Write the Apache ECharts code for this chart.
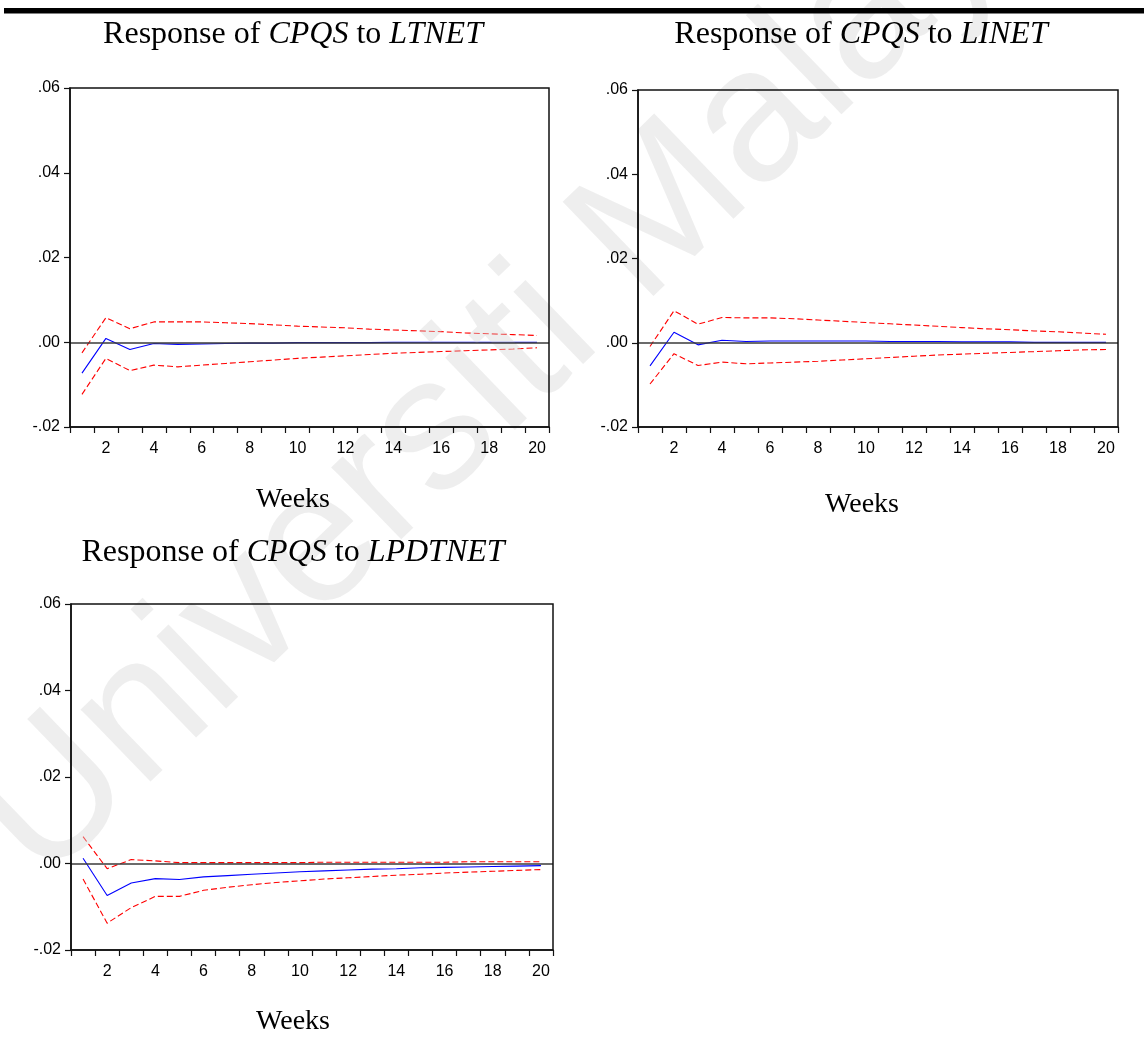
<!DOCTYPE html>
<html>
<head>
<meta charset="utf-8">
<script src="https://cdn.jsdelivr.net/npm/echarts@6/dist/echarts.min.js"></script>
<style>
  html, body { margin: 0; padding: 0; background: #fff; }
  #chart { width: 1144px; height: 1039px; }
</style>
</head>
<body>
<div id="chart"></div>
<script>
// Weeks after the shock
const weeks = ['1','2','3','4','5','6','7','8','9','10','11','12','13','14','15','16','17','18','19','20'];

// y-axis ticks
const yMin = -0.02, yMax = 0.06, yStep = 0.02;

// Response of CPQS to LTNET
const ltnetIrf   = [-0.0073, 0.0009, -0.0017, -0.0003, -0.0005, -0.0004, -0.0003, -0.0002, -0.0002, -0.0001, -0.0001, -0.0001, -0.0001, 0.0000, 0.0000, 0.0000, 0.0000, 0.0000, 0.0000, 0.0000];
const ltnetUpper = [-0.0025, 0.0058, 0.0032, 0.0048, 0.0048, 0.0048, 0.0046, 0.0044, 0.0041, 0.0038, 0.0036, 0.0034, 0.0031, 0.0029, 0.0027, 0.0025, 0.0022, 0.0020, 0.0018, 0.0016];
const ltnetLower = [-0.0123, -0.0038, -0.0067, -0.0054, -0.0058, -0.0054, -0.0050, -0.0046, -0.0042, -0.0038, -0.0035, -0.0032, -0.0029, -0.0026, -0.0024, -0.0022, -0.0020, -0.0018, -0.0016, -0.0013];

// Response of CPQS to LINET
const linetIrf   = [-0.0055, 0.0025, -0.0005, 0.0006, 0.0003, 0.0004, 0.0004, 0.0004, 0.0004, 0.0004, 0.0003, 0.0003, 0.0003, 0.0002, 0.0002, 0.0002, 0.0001, 0.0001, 0.0001, 0.0001];
const linetUpper = [-0.0009, 0.0076, 0.0044, 0.0060, 0.0059, 0.0059, 0.0057, 0.0054, 0.0051, 0.0048, 0.0045, 0.0042, 0.0039, 0.0036, 0.0033, 0.0031, 0.0028, 0.0026, 0.0023, 0.0020];
const linetLower = [-0.0098, -0.0026, -0.0054, -0.0046, -0.0050, -0.0048, -0.0046, -0.0044, -0.0041, -0.0038, -0.0035, -0.0032, -0.0029, -0.0027, -0.0025, -0.0023, -0.0021, -0.0019, -0.0017, -0.0016];

// Response of CPQS to LPDTNET
const lpdtnetIrf   = [0.0012, -0.0074, -0.0045, -0.0035, -0.0037, -0.0031, -0.0028, -0.0025, -0.0022, -0.0019, -0.0017, -0.0015, -0.0013, -0.0012, -0.0010, -0.0009, -0.0008, -0.0007, -0.0006, -0.0005];
const lpdtnetUpper = [0.0062, -0.0012, 0.0009, 0.0006, 0.0002, 0.0002, 0.0002, 0.0002, 0.0002, 0.0002, 0.0003, 0.0003, 0.0003, 0.0003, 0.0003, 0.0003, 0.0004, 0.0004, 0.0004, 0.0004];
const lpdtnetLower = [-0.0036, -0.0138, -0.0102, -0.0076, -0.0076, -0.0062, -0.0055, -0.0049, -0.0044, -0.0040, -0.0036, -0.0033, -0.0030, -0.0027, -0.0025, -0.0022, -0.0020, -0.0018, -0.0016, -0.0014];

const panelNames = ['LTNET', 'LINET', 'LPDTNET'];

const SANS = "'Liberation Sans', Arial, sans-serif";
const SERIF = "'Liberation Serif', 'Times New Roman', serif";

// Panel frames (pixels)
const panels = [
  { left: 70,  top: 88,  width: 479, height: 339, irf: ltnetIrf,   up: ltnetUpper,   lo: ltnetLower,   titleX: 293, titleY: 35,  weeksX: 293, weeksY: 500 },
  { left: 638, top: 90,  width: 480, height: 337, irf: linetIrf,   up: linetUpper,   lo: linetLower,   titleX: 861, titleY: 35,  weeksX: 862, weeksY: 505 },
  { left: 71,  top: 604, width: 482, height: 346, irf: lpdtnetIrf, up: lpdtnetUpper, lo: lpdtnetLower, titleX: 293, titleY: 553, weeksX: 293, weeksY: 1022 }
];

const fmtY = v => v.toFixed(2).replace('0.', '.');

const grids = [], xAxes = [], yAxes = [], series = [], graphics = [];

panels.forEach((p, i) => {
  grids.push({ left: p.left, top: p.top, width: p.width, height: p.height, z: 10,
               show: true, borderColor: '#111', borderWidth: 1.5, backgroundColor: 'transparent' });
  xAxes.push({
    gridIndex: i, type: 'category', data: weeks, boundaryGap: true, position: 'bottom', z: 10,
    axisLine: { onZero: false, lineStyle: { color: '#111', width: 1.5 } },
    axisTick: { show: true, interval: 0, length: 6, lineStyle: { color: '#111', width: 1.2 } },
    axisLabel: { interval: (idx) => idx % 2 === 1, margin: 14, color: '#000', fontFamily: SANS, fontSize: 16 },
    splitLine: { show: false }
  });
  yAxes.push({
    gridIndex: i, type: 'value', min: yMin, max: yMax, interval: yStep, position: 'left', z: 10,
    axisLine: { show: true, onZero: false, lineStyle: { color: '#111', width: 1.5 } },
    axisTick: { show: true, length: 6, lineStyle: { color: '#111', width: 1.2 } },
    axisLabel: { formatter: fmtY, margin: 10, color: '#000', fontFamily: SANS, fontSize: 16 },
    splitLine: { show: false }
  });
  const dashed = { color: '#ff0000', width: 1.1, type: [6, 3] };
  series.push({
    type: 'line', xAxisIndex: i, yAxisIndex: i, data: p.irf, symbol: 'none', silent: true,
    lineStyle: { color: '#0000ff', width: 1.1 }, z: 3,
    markLine: { silent: true, symbol: 'none', label: { show: false }, animation: false,
                lineStyle: { color: '#3a3a3a', width: 1.5, type: 'solid' }, data: [{ yAxis: 0 }] }
  });
  series.push({ type: 'line', xAxisIndex: i, yAxisIndex: i, data: p.up, symbol: 'none', silent: true, lineStyle: dashed, z: 4 });
  series.push({ type: 'line', xAxisIndex: i, yAxisIndex: i, data: p.lo, symbol: 'none', silent: true, lineStyle: dashed, z: 4 });

  graphics.push({
    type: 'text', x: p.titleX, y: p.titleY, z: 20,
    style: {
      text: '{n|Response of }{i|CPQS}{n| to }{i|' + panelNames[i] + '}',
      align: 'center', verticalAlign: 'middle',
      rich: {
        n: { fontFamily: SERIF, fontSize: 32, fill: '#000' },
        i: { fontFamily: SERIF, fontSize: 32, fontStyle: 'italic', fill: '#000' }
      }
    }
  });
  graphics.push({
    type: 'text', x: p.weeksX, y: p.weeksY, z: 20,
    style: { text: 'Weeks', align: 'center', verticalAlign: 'middle', font: '28px ' + SERIF, fill: '#000' }
  });
});

// Rule across the top of the page
graphics.push({ type: 'rect', shape: { x: 4, y: 8, width: 1140, height: 5.5 }, style: { fill: '#000' }, z: 20 });

// Faint diagonal watermark, laid over the plotted lines
graphics.push({
  type: 'text', x: -60, y: 780, rotation: 44 * Math.PI / 180, z: 5, silent: true,
  style: { text: 'Universiti Malaya', font: '190px ' + SANS, fill: 'rgba(215,215,215,0.42)', align: 'left', verticalAlign: 'alphabetic' }
});

const chart = echarts.init(document.getElementById('chart'), null, { renderer: 'canvas' });
chart.setOption({
  animation: false,
  backgroundColor: '#fff',
  grid: grids,
  xAxis: xAxes,
  yAxis: yAxes,
  series: series,
  graphic: graphics
});
</script>
</body>
</html>
